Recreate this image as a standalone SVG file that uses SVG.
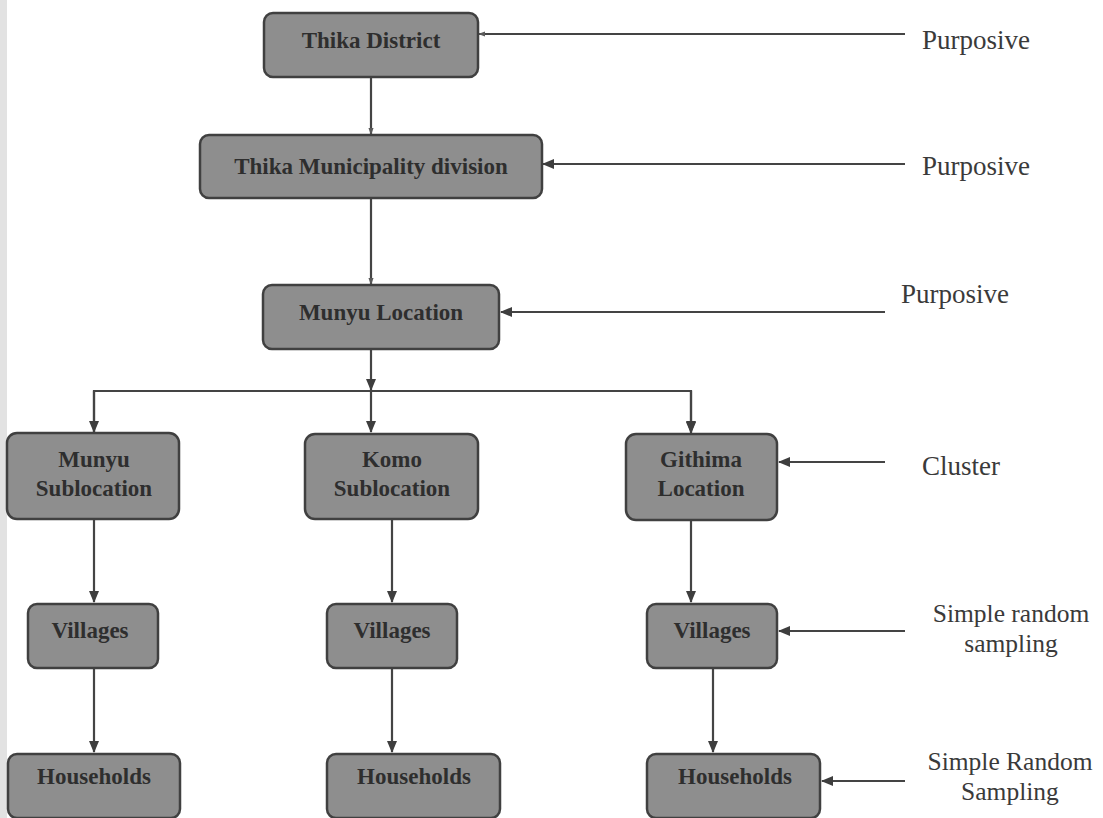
<svg xmlns="http://www.w3.org/2000/svg" width="1103" height="818" viewBox="0 0 1103 818">
<defs>
<marker id="ah" viewBox="0 0 12 12" refX="11" refY="6" markerWidth="12" markerHeight="12" markerUnits="userSpaceOnUse" orient="auto">
<path d="M0,1 L12,6 L0,11 Z" fill="#3e3e3e"/>
</marker>
<marker id="ahs" viewBox="0 0 8 8" refX="7" refY="4" markerWidth="7" markerHeight="7" markerUnits="userSpaceOnUse" orient="auto">
<path d="M0,1 L8,4 L0,7 Z" fill="#5a5a5a"/>
</marker>
<style>
.box{fill:#8e8e8e;stroke:#404040;stroke-width:2.5}
.lbl{font-family:"Liberation Serif","Times New Roman",serif;font-weight:bold;font-size:23px;fill:#2e2e2e;text-anchor:middle}
.side{font-family:"Liberation Serif","Times New Roman",serif;font-size:27px;fill:#3a3a3a}
.side2{font-family:"Liberation Serif","Times New Roman",serif;font-size:25.5px;fill:#3a3a3a;text-anchor:middle}
.c{fill:none;stroke:#444;stroke-width:2.2}
</style>
</defs>
<rect x="0" y="0" width="1103" height="818" fill="#ffffff"/>
<rect x="0" y="0" width="7" height="818" fill="#e2e2e2"/>

<g id="connectors">
<line class="c" x1="371" y1="77" x2="371" y2="134" marker-end="url(#ahs)"/>
<line class="c" x1="371" y1="198" x2="371" y2="284" marker-end="url(#ahs)"/>
<line class="c" x1="371" y1="349" x2="371" y2="390" marker-end="url(#ah)"/>
<polyline class="c" points="94,433 94,391 691,391 691,433" marker-end="url(#ah)" marker-start="none"/>
<line class="c" x1="94" y1="391" x2="94" y2="432" marker-end="url(#ah)"/>
<line class="c" x1="371" y1="391" x2="371" y2="432" marker-end="url(#ah)"/>
<line class="c" x1="691" y1="391" x2="691" y2="432" marker-end="url(#ah)"/>
<line class="c" x1="94" y1="519" x2="94" y2="602" marker-end="url(#ah)"/>
<line class="c" x1="94" y1="668" x2="94" y2="752" marker-end="url(#ah)"/>
<line class="c" x1="392" y1="519" x2="392" y2="602" marker-end="url(#ah)"/>
<line class="c" x1="392" y1="668" x2="392" y2="752" marker-end="url(#ah)"/>
<line class="c" x1="691" y1="520" x2="691" y2="602" marker-end="url(#ah)"/>
<line class="c" x1="713" y1="668" x2="713" y2="752" marker-end="url(#ah)"/>
<line class="c" x1="905" y1="34" x2="479" y2="34" marker-end="url(#ahs)"/>
<line class="c" x1="905" y1="164" x2="543" y2="164" marker-end="url(#ah)"/>
<line class="c" x1="885" y1="312" x2="501" y2="312" marker-end="url(#ah)"/>
<line class="c" x1="885" y1="462" x2="779" y2="462" marker-end="url(#ah)"/>
<line class="c" x1="905" y1="631" x2="779" y2="631" marker-end="url(#ah)"/>
<line class="c" x1="905" y1="781" x2="822" y2="781" marker-end="url(#ah)"/>
</g>

<g id="thika-district">
<rect class="box" x="264" y="13" width="214" height="64" rx="9"/>
<text class="lbl" x="371" y="48">Thika District</text>
</g>
<g id="thika-municipality">
<rect class="box" x="200" y="135" width="342" height="63" rx="9"/>
<text class="lbl" x="371" y="174">Thika Municipality division</text>
</g>
<g id="munyu-location">
<rect class="box" x="263" y="285" width="236" height="64" rx="9"/>
<text class="lbl" x="381" y="320">Munyu Location</text>
</g>
<g id="munyu-sublocation">
<rect class="box" x="7" y="433" width="172" height="86" rx="10"/>
<text class="lbl" x="94" y="467">Munyu</text>
<text class="lbl" x="94" y="496">Sublocation</text>
</g>
<g id="komo-sublocation">
<rect class="box" x="305" y="434" width="173" height="85" rx="10"/>
<text class="lbl" x="392" y="467">Komo</text>
<text class="lbl" x="392" y="496">Sublocation</text>
</g>
<g id="githima-location">
<rect class="box" x="626" y="434" width="151" height="86" rx="10"/>
<text class="lbl" x="701" y="467">Githima</text>
<text class="lbl" x="701" y="496">Location</text>
</g>
<g id="villages-1">
<rect class="box" x="28" y="604" width="130" height="64" rx="9"/>
<text class="lbl" x="90" y="638">Villages</text>
</g>
<g id="villages-2">
<rect class="box" x="327" y="604" width="130" height="64" rx="9"/>
<text class="lbl" x="392" y="638">Villages</text>
</g>
<g id="villages-3">
<rect class="box" x="647" y="604" width="130" height="64" rx="9"/>
<text class="lbl" x="712" y="638">Villages</text>
</g>
<g id="households-1">
<rect class="box" x="8" y="754" width="172" height="64" rx="9"/>
<text class="lbl" x="94" y="784">Households</text>
</g>
<g id="households-2">
<rect class="box" x="327" y="754" width="173" height="64" rx="9"/>
<text class="lbl" x="414" y="784">Households</text>
</g>
<g id="households-3">
<rect class="box" x="647" y="754" width="173" height="64" rx="9"/>
<text class="lbl" x="735" y="784">Households</text>
</g>

<g id="labels">
<text class="side" x="922" y="49">Purposive</text>
<text class="side" x="922" y="175">Purposive</text>
<text class="side" x="901" y="303">Purposive</text>
<text class="side" x="922" y="475">Cluster</text>
<text class="side2" x="1011" y="622">Simple random</text>
<text class="side2" x="1011" y="652">sampling</text>
<text class="side2" x="1010" y="770">Simple Random</text>
<text class="side2" x="1010" y="800">Sampling</text>
</g>
</svg>
